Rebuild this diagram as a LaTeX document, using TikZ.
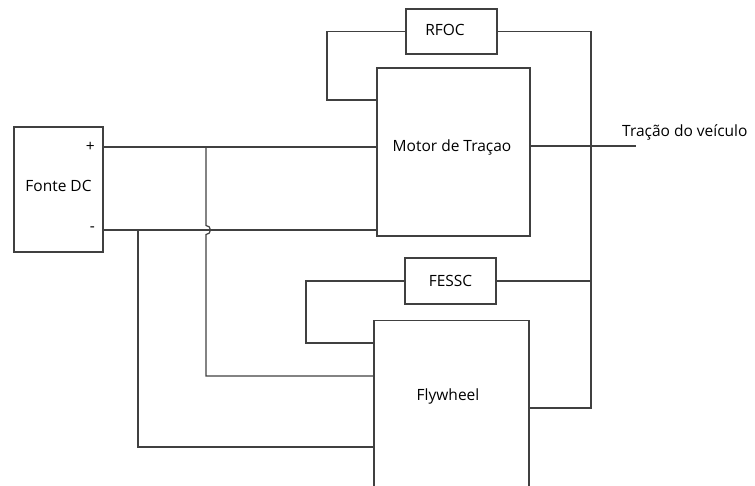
\documentclass[tikz,border=0pt]{standalone}
\usepackage{fontspec}
\setmainfont{Open Sans}

\begin{document}
\begin{tikzpicture}[
    x=1pt, y=-1pt,
    font=\fontsize{15.5}{18}\selectfont,
    block/.style={draw=black!75, line width=1.2pt, rectangle, inner sep=0pt},
    wire/.style={draw=black!75, line width=1.2pt}
]
   \clip (0,0) rectangle (755,485);

   % Blocks
   \node[block, minimum width=89, minimum height=125] (fonte) at (58.5,189.5) {};
   \node (fontetxt) at (58.5,186) {Fonte DC};
   \node[block, minimum width=153, minimum height=168] (motor) at (453.5,152) {};
   \node (motortxt) at (452,147) {Motor de Traçao};
   \node[block, minimum width=91, minimum height=45] (rfoc) at (451.5,31.5) {};
   \node (rfoctxt) at (445,30) {RFOC};
   \node[block, minimum width=91, minimum height=46] (fessc) at (450.5,281) {FESSC};
   \node[block, minimum width=155, minimum height=190, anchor=north] (fly) at (451.5,320) {};
   \node (flytxt) at (448,396) {Flywheel};

   % Terminals
   \node[inner sep=1pt, anchor=east] (plus) at (96,147) {+};
   \node[inner sep=1pt, anchor=east] (minus) at (96,229) {-};
   \coordinate (pj) at (206,147);
   \coordinate (nj) at (138,230);
   \coordinate (bus) at (591,408);
   \coordinate (out) at (636,146);
   \node[anchor=base west, inner sep=0pt] (tracao) at (622,136) {Tração do veículo};

   % Connections
   \draw[wire] (fonte.east |- 0,147) -- (motor.west |- 0,147);
   \draw[wire] (fonte.east |- 0,230) -- (motor.west |- 0,230);
   \draw[wire] (pj) -- (206,225.5) arc[start angle=-90, end angle=90, radius=4.5]
       -- (206,376) -- (fly.west |- 0,376);
   \draw[wire] (nj) -- (138,447) -- (fly.west |- 0,447);
   \draw[wire] (rfoc.west) -| (327,100) -- (motor.west |- 0,100);
   \draw[wire] (rfoc.east) -| (bus) -- (fly.east |- bus);
   \draw[wire] (motor.east |- out) -- (out);
   \draw[wire] (fessc.west) -| (306,343) -- (fly.west |- 0,343);
   \draw[wire] (fessc.east) -- (fessc.east -| bus);

\end{tikzpicture}
\end{document}
